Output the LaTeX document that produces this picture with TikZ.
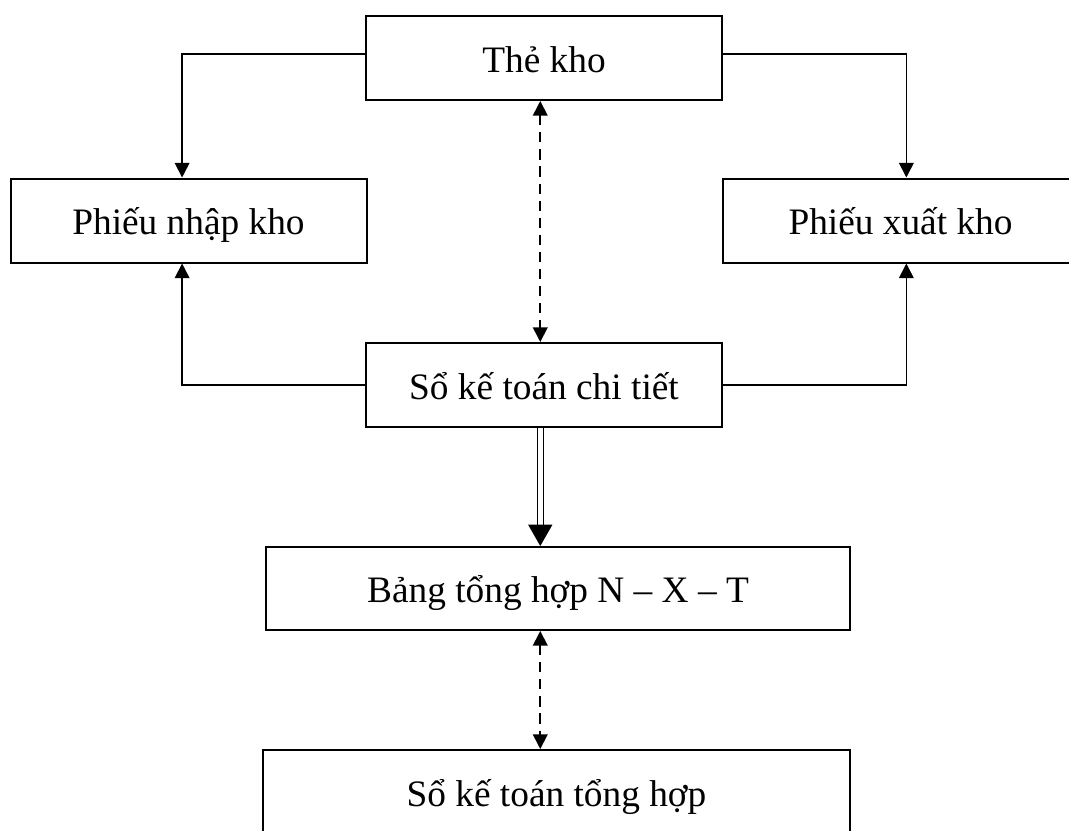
\documentclass[tikz,border=0pt]{standalone}
\usepackage{fontspec}
\setmainfont{Liberation Serif}
\usetikzlibrary{arrows.meta}

\tikzset{
  box/.style={draw, line width=0.75pt, inner sep=0pt, font=\fontsize{14pt}{16pt}\selectfont,
    text height=13.5pt, text depth=3pt, minimum width=133.5pt, minimum height=31.5pt},
  conn/.style={line width=0.65pt, -{Triangle[length=5.5pt,width=5.5pt]}},
  twoway/.style={line width=0.65pt, dash pattern=on 3.8pt off 2.6pt,
    {Triangle[length=5.5pt,width=5.5pt]}-{Triangle[length=5.5pt,width=5.5pt]}},
  dblarrow/.style={double, line width=0.45pt, double distance=1.8pt,
    -{Triangle[length=8pt,width=9pt]}}
}

\begin{document}
\begin{tikzpicture}[x=0.375pt, y=-0.375pt, line join=miter]
  \clip (0,0) rectangle (1069,830); % page = reference frame

  % --- boxes ---
  \node[box] (the)     at (544,58)     {Thẻ kho};
  \node[box] (nhap)    at (188.5,220.5) {Phiếu nhập kho};
  \node[box] (xuat)    at (900.5,220.5) {Phiếu xuất kho};
  \node[box] (chitiet) at (544,385)    {Sổ kế toán chi tiết};
  \node[box, minimum width=219pt, minimum height=31.1pt] (bang) at (558,588.5) {Bảng tổng hợp N – X – T};
  \node[box, minimum width=220.1pt] (tonghop) at (556.5,792) {Sổ kế toán tổng hợp};

  % --- connectors ---
  \coordinate (axis) at ([xshift=-1.4pt]chitiet.south);
  \draw[conn] ([yshift=1.5pt]the.west) -| ([xshift=-2.4pt]nhap.north);
  \draw[conn] ([yshift=1.5pt]the.east) -| ([xshift=2.2pt]xuat.north);
  \draw[conn] (chitiet.west) -| ([xshift=-2.4pt]nhap.south);
  \draw[conn] (chitiet.east) -| ([xshift=2.2pt]xuat.south);
  \draw[twoway] (the.south -| axis) -- (chitiet.north -| axis);
  \draw[dblarrow] (axis) -- (axis |- bang.north);
  \draw[twoway] (bang.south -| axis) -- (tonghop.north -| axis);
\end{tikzpicture}
\end{document}
